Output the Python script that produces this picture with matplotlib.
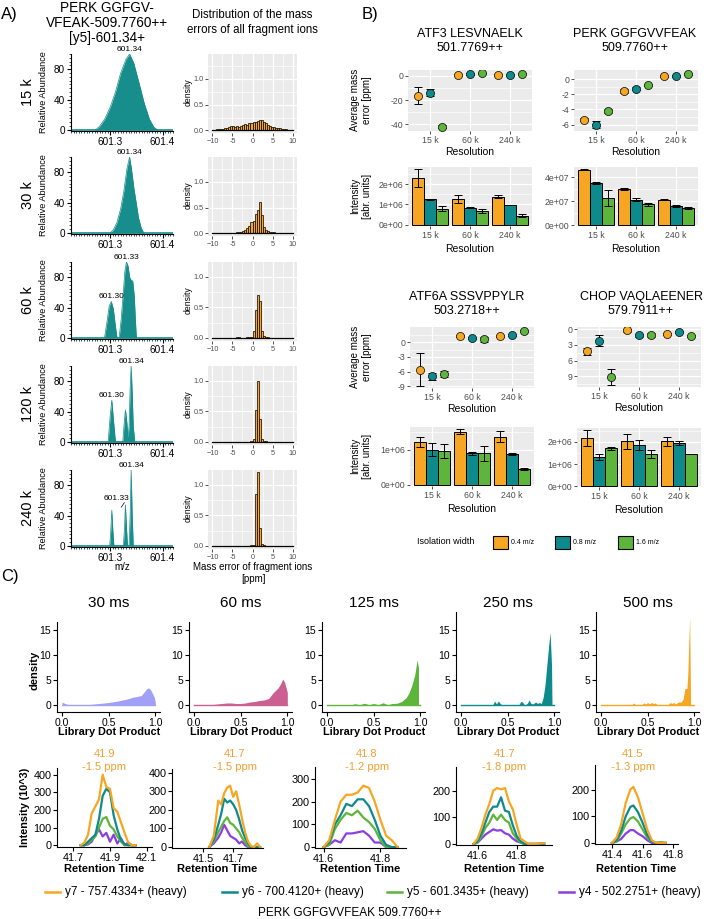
import numpy as np
import matplotlib
matplotlib.use("Agg")
import matplotlib.pyplot as plt
from matplotlib.patches import Rectangle
from matplotlib.ticker import MultipleLocator, FixedLocator

plt.rcParams['font.family'] = ['Liberation Sans', 'DejaVu Sans']
plt.rcParams['axes.linewidth'] = 0.8

# ======================= DATA =======================
resolutions = ['15 k', '30 k', '60 k', '120 k', '240 k']

# Panel A: spectra of [y5]-601.34+ (m/z, relative abundance)
spec_15k_mz = [601.272, 601.28, 601.29, 601.30, 601.31, 601.32, 601.33, 601.337, 601.345, 601.355, 601.365, 601.375, 601.383, 601.390]
spec_15k_int = [0, 5, 15, 30, 50, 75, 93, 100, 88, 62, 35, 14, 4, 0]
spec_30k_mz = [601.300, 601.306, 601.313, 601.320, 601.326, 601.332, 601.337, 601.341, 601.345, 601.350, 601.354, 601.359, 601.364]
spec_30k_int = [0, 4, 14, 32, 55, 85, 100, 82, 60, 38, 20, 7, 0]
spec_60k_mz = [601.289, 601.294, 601.298, 601.302, 601.306, 601.310, 601.313, 601.317, 601.321, 601.325, 601.328, 601.331, 601.334, 601.337, 601.340, 601.343, 601.346, 601.348, 601.350]
spec_60k_int = [0, 22, 42, 48, 38, 15, 0, 0, 25, 60, 88, 100, 95, 80, 76, 75, 55, 25, 0]
spec_120k_mz = [601.296, 601.300, 601.303, 601.306, 601.310, 601.324, 601.327, 601.329, 601.331, 601.334, 601.336, 601.338, 601.340, 601.342, 601.344, 601.347]
spec_120k_int = [0, 35, 55, 30, 0, 0, 28, 42, 32, 6, 20, 70, 100, 65, 20, 0]
spec_240k_mz = [601.299, 601.301, 601.303, 601.305, 601.307, 601.325, 601.327, 601.329, 601.331, 601.333, 601.336, 601.338, 601.340, 601.342, 601.344]
spec_240k_int = [0, 20, 47, 20, 0, 0, 20, 54, 25, 0, 0, 40, 100, 40, 0]

# peak labels: (m/z, abundance, text)
spec_labels = [
    [(601.337, 100, '601.34')],
    [(601.337, 100, '601.34')],
    [(601.302, 48, '601.30'), (601.331, 100, '601.33')],
    [(601.303, 55, '601.30'), (601.340, 100, '601.34')],
    [(601.340, 100, '601.34')],
]

# Panel A: histograms of fragment mass errors (0.5 ppm bins from -10 to 10)
hist_bin_edges = [-10 + 0.5 * k for k in range(41)]
hist_15k = [0.01, 0.01, 0.02, 0.02, 0.03, 0.03, 0.04, 0.05, 0.07, 0.08,
            0.09, 0.07, 0.08, 0.07, 0.09, 0.10, 0.12, 0.11, 0.14, 0.15,
            0.16, 0.17, 0.19, 0.20, 0.21, 0.17, 0.14, 0.11, 0.08, 0.07,
            0.06, 0.05, 0.04, 0.04, 0.03, 0.02, 0.02, 0.01, 0.01, 0.01]
hist_30k = [0.005, 0.005, 0.005, 0.005, 0.005, 0.01, 0.005, 0.01, 0.01, 0.01,
            0.01, 0.01, 0.02, 0.02, 0.03, 0.04, 0.06, 0.10, 0.14, 0.22,
            0.25, 0.38, 0.45, 0.60, 0.35, 0.12, 0.07, 0.04, 0.03, 0.02,
            0.02, 0.01, 0.01, 0.01, 0.005, 0.005, 0.005, 0.005, 0.0, 0.0]
hist_60k = [0.0, 0.0, 0.0, 0.0, 0.0, 0.005, 0.0, 0.005, 0.005, 0.005,
            0.005, 0.005, 0.01, 0.01, 0.005, 0.005, 0.005, 0.01, 0.01, 0.02,
            0.12, 0.45, 0.70, 0.60, 0.12, 0.03, 0.02, 0.01, 0.005, 0.005,
            0.005, 0.005, 0.0, 0.0, 0.0, 0.0, 0.0, 0.0, 0.0, 0.0]
hist_120k = [0.0, 0.0, 0.0, 0.0, 0.0, 0.0, 0.0, 0.0, 0.0, 0.0,
             0.0, 0.0, 0.0, 0.0, 0.0, 0.0, 0.005, 0.005, 0.005, 0.01,
             0.05, 0.52, 1.00, 0.38, 0.05, 0.02, 0.01, 0.005, 0.005, 0.0,
             0.0, 0.0, 0.0, 0.0, 0.0, 0.0, 0.0, 0.0, 0.0, 0.0]
hist_240k = [0.0, 0.0, 0.0, 0.0, 0.0, 0.0, 0.0, 0.0, 0.0, 0.0,
             0.0, 0.0, 0.0, 0.0, 0.005, 0.0, 0.005, 0.0, 0.005, 0.01,
             0.02, 0.85, 1.20, 0.30, 0.03, 0.01, 0.005, 0.0, 0.0, 0.0,
             0.005, 0.0, 0.0, 0.0, 0.0, 0.0, 0.0, 0.0, 0.0, 0.0]

# Panel B
res_cats = ['15 k', '60 k', '240 k']
iso_widths = ['0.4 m/z', '0.8 m/z', '1.6 m/z']
peptides = ['ATF3 LESVNAELK\n501.7769++', 'PERK GGFGVVFEAK\n509.7760++',
            'ATF6A SSSVPPYLR\n503.2718++', 'CHOP VAQLAEENER\n579.7911++']
# rows: isolation width 0.4 / 0.8 / 1.6 ; columns: 15 k / 60 k / 240 k
atf3_err = [[-16.4, 0.5, 0.5], [-14.0, 1.5, 0.5], [-41.9, 2.0, 1.8]]
atf3_err_sd = [[7.0, 0.6, 0.6], [3.0, 0.6, 0.6], [1.2, 0.6, 0.6]]
atf3_int = [[2.30e6, 1.28e6, 1.38e6], [1.24e6, 0.84e6, 0.96e6], [0.79e6, 0.67e6, 0.43e6]]
atf3_int_sd = [[0.46e6, 0.20e6, 0.09e6], [0.02e6, 0.01e6, 0.01e6], [0.12e6, 0.08e6, 0.08e6]]

perk_err = [[-5.35, -1.6, 0.45], [-6.0, -1.25, 0.45], [-4.2, -0.8, 0.65]]
perk_err_sd = [[0.2, 0.25, 0.15], [0.45, 0.15, 0.12], [0.25, 0.15, 0.15]]
perk_int = [[4.64e7, 3.05e7, 2.14e7], [3.50e7, 2.14e7, 1.58e7], [2.28e7, 1.75e7, 1.42e7]]
perk_int_sd = [[0.04e7, 0.10e7, 0.03e7], [0.08e7, 0.12e7, 0.08e7], [0.68e7, 0.13e7, 0.07e7]]

atf6a_err = [[-5.6, 1.2, 1.35], [-6.95, 0.9, 1.4], [-6.5, 0.55, 2.25]]
atf6a_err_sd = [[3.4, 0.2, 0.2], [0.7, 0.2, 0.2], [0.7, 0.5, 0.15]]
atf6a_int = [[1.21e6, 1.51e6, 1.37e6], [1.00e6, 0.89e6, 0.87e6], [0.96e6, 0.89e6, 0.45e6]]
atf6a_int_sd = [[0.14e6, 0.07e6, 0.15e6], [0.19e6, 0.05e6, 0.02e6], [0.19e6, 0.20e6, 0.02e6]]

chop_err = [[4.2, 0.25, 0.85], [2.2, 1.15, 0.6], [9.1, 1.05, 1.3]]
chop_err_sd = [[0.65, 0.3, 0.2], [1.0, 0.3, 0.15], [1.45, 0.4, 0.15]]
chop_int = [[2.18e6, 2.03e6, 2.03e6], [1.32e6, 1.85e6, 1.95e6], [1.71e6, 1.46e6, 1.47e6]]
chop_int_sd = [[0.35e6, 0.33e6, 0.20e6], [0.15e6, 0.22e6, 0.10e6], [0.08e6, 0.16e6, 0.01e6]]

# Panel C: library dot product densities
fill_times = ['30 ms', '60 ms', '125 ms', '250 ms', '500 ms']
dens_30_x = [0.0, 0.02, 0.05, 0.1, 0.2, 0.3, 0.4, 0.5, 0.6, 0.7, 0.75, 0.8, 0.85, 0.88, 0.91, 0.93, 0.95, 0.97, 0.99, 1.0]
dens_30_y = [0.6, 0.4, 0.15, 0.05, 0.05, 0.1, 0.3, 0.5, 0.8, 1.2, 1.5, 1.7, 1.9, 2.6, 3.3, 3.4, 3.0, 2.3, 1.5, 0.5]
dens_60_x = [0.0, 0.1, 0.2, 0.3, 0.35, 0.4, 0.45, 0.5, 0.55, 0.6, 0.65, 0.7, 0.75, 0.8, 0.85, 0.9, 0.93, 0.95, 0.97, 1.0]
dens_60_y = [0.1, 0.1, 0.1, 0.3, 0.4, 0.4, 0.3, 0.3, 0.4, 0.6, 0.7, 0.9, 1.0, 1.3, 2.5, 3.4, 4.3, 5.2, 4.6, 2.5]
dens_125_x = [0.0, 0.25, 0.3, 0.35, 0.4, 0.45, 0.5, 0.55, 0.6, 0.65, 0.7, 0.75, 0.8, 0.85, 0.88, 0.91, 0.94, 0.965, 0.98]
dens_125_y = [0.0, 0.0, 0.25, 0.05, 0.35, 0.05, 0.3, 0.05, 0.45, 0.05, 0.3, 0.35, 0.7, 1.5, 2.5, 4.0, 6.0, 9.0, 7.5]
dens_250_x = [0.0, 0.34, 0.36, 0.38, 0.40, 0.42, 0.44, 0.47, 0.62, 0.64, 0.66, 0.68, 0.71, 0.73, 0.75, 0.77, 0.80, 0.82, 0.84, 0.86, 0.88, 0.90, 0.92, 0.94, 0.955, 0.97, 0.975]
dens_250_y = [0.0, 0.0, 0.8, 0.2, 0.8, 0.3, 0.0, 0.0, 0.0, 0.7, 0.6, 0.0, 0.3, 1.0, 0.3, 0.2, 0.6, 0.3, 0.5, 0.3, 1.5, 4.0, 8.0, 12.0, 14.5, 8.0, 0.0]
dens_500_x = [0.0, 0.33, 0.35, 0.37, 0.44, 0.46, 0.48, 0.50, 0.52, 0.54, 0.56, 0.58, 0.60, 0.63, 0.72, 0.74, 0.76, 0.78, 0.80, 0.83, 0.86, 0.88, 0.90, 0.92, 0.93, 0.94, 0.95, 0.96]
dens_500_y = [0.0, 0.0, 0.4, 0.0, 0.1, 0.4, 0.2, 0.5, 0.2, 0.5, 0.3, 0.4, 0.1, 0.0, 0.1, 0.5, 0.3, 0.5, 0.2, 0.6, 0.6, 1.2, 3.3, 3.3, 6.0, 12.0, 17.5, 0.0]

# Panel C: chromatograms (retention time, intensity 10^3)
transitions = ['y7 - 757.4334+ (heavy)', 'y6 - 700.4120+ (heavy)',
               'y5 - 601.3435+ (heavy)', 'y4 - 502.2751+ (heavy)']
rt_30 = [41.74, 41.76, 41.78, 41.80, 41.82, 41.84, 41.86, 41.88, 41.90, 41.92, 41.94, 41.96, 41.98, 42.00, 42.02, 42.04]
y7_30 = [0, 15, 60, 180, 220, 260, 400, 330, 320, 210, 190, 130, 70, 15, 0, 0]
y6_30 = [0, 0, 20, 40, 60, 150, 280, 320, 300, 170, 90, 30, 5, 0, 0, 0]
y5_30 = [0, 0, 10, 30, 50, 100, 150, 160, 110, 90, 50, 20, 0, 0, 0, 0]
y4_30 = [0, 0, 5, 20, 60, 90, 50, 70, 20, 60, 10, 40, 0, 15, 0, 0]

rt_60 = [41.54, 41.57, 41.60, 41.62, 41.64, 41.66, 41.68, 41.70, 41.72, 41.74, 41.76, 41.78, 41.80, 41.82, 41.84, 41.86, 41.88]
y7_60 = [0, 60, 250, 230, 290, 320, 330, 270, 300, 230, 150, 80, 30, 5, 0, 20, 0]
y6_60 = [0, 40, 120, 180, 260, 240, 250, 230, 200, 150, 90, 50, 20, 0, 0, 0, 0]
y5_60 = [0, 30, 80, 110, 140, 160, 130, 120, 100, 80, 50, 25, 5, 0, 0, 0, 0]
y4_60 = [0, 20, 50, 80, 120, 90, 60, 50, 40, 20, 30, 10, 0, 0, 0, 0, 0]

rt_125 = [41.60, 41.62, 41.64, 41.66, 41.68, 41.70, 41.72, 41.74, 41.76, 41.78, 41.80, 41.82, 41.84, 41.86]
y7_125 = [0, 30, 120, 200, 230, 230, 240, 270, 260, 200, 120, 50, 30, 0]
y6_125 = [0, 20, 100, 140, 190, 180, 210, 210, 180, 120, 50, 10, 0, 0]
y5_125 = [0, 10, 80, 120, 150, 140, 160, 130, 110, 80, 30, 0, 0, 0]
y4_125 = [0, 10, 30, 20, 60, 60, 65, 70, 50, 20, 20, 0, 0, 0]

rt_250 = [41.58, 41.60, 41.62, 41.64, 41.66, 41.68, 41.70, 41.72, 41.74, 41.76, 41.78, 41.80, 41.82, 41.84, 41.86, 41.90, 41.94]
y7_250 = [0, 20, 60, 110, 150, 200, 210, 205, 210, 160, 130, 70, 20, 10, 0, 0, 3]
y6_250 = [0, 10, 40, 80, 120, 140, 140, 175, 125, 120, 70, 30, 10, 0, 0, 0, 0]
y5_250 = [0, 5, 30, 60, 80, 110, 90, 110, 90, 80, 40, 20, 5, 0, 0, 0, 0]
y4_250 = [0, 5, 20, 35, 45, 55, 50, 52, 40, 35, 20, 10, 5, 0, 0, 0, 3]

rt_500 = [41.40, 41.43, 41.46, 41.49, 41.52, 41.54, 41.57, 41.60, 41.63, 41.66, 41.69, 41.72, 41.75]
y7_500 = [0, 20, 70, 150, 200, 210, 170, 110, 50, 10, 0, 0, 0]
y6_500 = [0, 10, 45, 100, 135, 140, 115, 75, 30, 5, 0, 0, 0]
y5_500 = [0, 5, 35, 70, 92, 97, 80, 50, 20, 5, 0, 3, 0]
y4_500 = [0, 5, 15, 35, 48, 48, 35, 25, 10, 0, 0, 0, 0]

apex_rt = ['41.9', '41.7', '41.8', '41.7', '41.5']
apex_ppm = ['-1.5 ppm', '-1.5 ppm', '-1.2 ppm', '-1.8 ppm', '-1.3 ppm']

# ======================= STYLE =======================
W, H = 709, 919
fig = plt.figure(figsize=(W / 100, H / 100), dpi=100)

ORANGE = '#F6A623'
TEAL = '#0F8A8C'
GREEN = '#5DB53C'
PURPLE = '#8B3FE0'
SPEC = '#178E8B'
ANNOT = '#F0A032'
iso_colors = [ORANGE, TEAL, GREEN]
dens_colors = ['#A0A0F8', '#CC5F92', GREEN, TEAL, ORANGE]
trans_colors = [ORANGE, TEAL, GREEN, PURPLE]


def pax(x0, y0, x1, y1):
    return fig.add_axes([x0 / W, 1 - y1 / H, (x1 - x0) / W, (y1 - y0) / H])


def ggstyle(ax, fs=5.5):
    ax.set_facecolor('#EBEBEB')
    for s in ax.spines.values():
        s.set_visible(False)
    ax.grid(True, which='major', color='white', lw=0.9)
    ax.grid(True, which='minor', color='white', lw=0.45)
    ax.set_axisbelow(True)
    ax.tick_params(which='major', length=2.2, width=0.6, color='#333333',
                   labelsize=fs, labelcolor='#4D4D4D', pad=1.2)
    ax.tick_params(which='minor', length=0)


def classic(ax, fs=7.5):
    ax.spines['top'].set_visible(False)
    ax.spines['right'].set_visible(False)
    ax.tick_params(which='major', length=3, width=0.8, labelsize=fs, pad=1.5)


# ======================= PANEL A =======================
spec_mz = [spec_15k_mz, spec_30k_mz, spec_60k_mz, spec_120k_mz, spec_240k_mz]
spec_int = [spec_15k_int, spec_30k_int, spec_60k_int, spec_120k_int, spec_240k_int]
hists = [hist_15k, hist_30k, hist_60k, hist_120k, hist_240k]
row_tops = [54, 157, 262, 366, 470]
hist_ytop = [1.48, 1.48, 1.24, 1.24, 1.24]
edges = np.array(hist_bin_edges)
centers = (edges[:-1] + edges[1:]) / 2

for i in range(5):
    top = row_tops[i]
    ax = pax(71, top, 173, top + 77)
    ax.fill_between(spec_mz[i], spec_int[i], 0, color=SPEC, lw=0)
    ax.plot(spec_mz[i], spec_int[i], color=SPEC, lw=0.5)
    ax.axhline(0, color=SPEC, lw=1.2)
    ax.set_xlim(601.225, 601.42)
    ax.set_ylim(-1.5, 100)
    classic(ax, 7.2)
    ax.set_xticks([601.3, 601.4])
    ax.set_xticklabels(['601.3', '601.4'])
    ax.xaxis.set_minor_locator(MultipleLocator(0.005))
    ax.set_yticks([0, 40, 80])
    ax.yaxis.set_minor_locator(MultipleLocator(5))
    ax.tick_params(which='minor', length=1.6, width=0.5)
    for (mz, ab, lab) in spec_labels[i]:
        ax.text(mz, ab + 1.5, lab, ha='center', va='bottom', fontsize=6, clip_on=False)
    if i == 4:
        ax.text(601.312, 58, '601.33', ha='center', va='bottom', fontsize=6)
        ax.plot([601.321, 601.327], [51, 57], color='black', lw=0.5)

    hx = pax(208, top, 297, top + 79)
    ggstyle(hx, 5.2)
    hx.bar(centers, hists[i], width=0.5, color=ORANGE, edgecolor='black', lw=0.5, zorder=3)
    hx.plot([-10, 10], [0, 0], color='black', lw=0.9, zorder=4)
    hx.set_xlim(-11.1, 11.1)
    hx.set_ylim(-0.05, hist_ytop[i])
    hx.set_xticks([-10, -5, 0, 5, 10])
    hx.set_xticklabels(['\u221210', '-5', '0', '5', '10'])
    hx.xaxis.set_minor_locator(FixedLocator([-7.5, -2.5, 2.5, 7.5]))
    hx.set_yticks([0, 0.5, 1.0])
    hx.set_yticklabels(['0.0', '0.5', '1.0'])
    hx.yaxis.set_minor_locator(FixedLocator([0.25, 0.75, 1.25]))

# ======================= PANEL B =======================
b_err = [atf3_err, perk_err, atf6a_err, chop_err]
b_err_sd = [atf3_err_sd, perk_err_sd, atf6a_err_sd, chop_err_sd]
b_int = [atf3_int, perk_int, atf6a_int, chop_int]
b_int_sd = [atf3_int_sd, perk_int_sd, atf6a_int_sd, chop_int_sd]
err_boxes = [(408, 70, 532, 131), (574, 70, 698, 131), (410, 327, 534, 388), (577, 327, 701, 387)]
int_boxes = [(408, 167, 532, 226), (574, 167, 698, 226), (410, 427, 534, 486), (577, 428, 701, 487)]
err_ylims = [(-45.5, 4.7), (-6.85, 1.2), (-9.35, 3.1), (11.0, -0.4)]
err_yticks = [[0, -20, -40], [0, -2, -4, -6], [0, -3, -6, -9], [0, 3, 6, 9]]
err_ylabels = [['0', '-20', '-40'], ['0', '-2', '-4', '-6'], ['0', '-3', '-6', '-9'], ['0', '3', '6', '9']]
err_minor = [[-10, -30], [-1, -3, -5], [1.5, -1.5, -4.5, -7.5], [1.5, 4.5, 7.5, 10.5]]
int_ylims = [(-0.07e6, 2.84e6), (-0.06e7, 4.86e7), (-0.03e6, 1.64e6), (-0.03e6, 2.63e6)]
int_yticks = [[0, 1e6, 2e6], [0, 2e7, 4e7], [0, 1e6], [0, 1e6, 2e6]]
int_ylabels = [['0e+00', '1e+06', '2e+06'], ['0e+00', '2e+07', '4e+07'], ['0e+00', '1e+06'], ['0e+00', '1e+06', '2e+06']]
int_minor = [[0.5e6, 1.5e6, 2.5e6], [1e7, 3e7], [0.5e6, 1.5e6], [0.5e6, 1.5e6, 2.5e6]]
dodge = [-0.3, 0.0, 0.3]
cat_pos = np.arange(1, 4)

for p in range(4):
    ax = pax(*err_boxes[p])
    ggstyle(ax, 6.3)
    for j in range(3):
        xs = cat_pos + dodge[j]
        ax.errorbar(xs, b_err[p][j], yerr=b_err_sd[p][j], fmt='none', ecolor='black',
                    elinewidth=0.7, capsize=3.2, capthick=0.7, zorder=3)
        ax.scatter(xs, b_err[p][j], s=34, c=iso_colors[j], edgecolors='black',
                   linewidths=0.5, zorder=4)
    ax.set_xlim(0.45, 3.55)
    ax.set_ylim(*err_ylims[p])
    ax.set_xticks(cat_pos)
    ax.set_xticklabels(res_cats)
    ax.set_yticks(err_yticks[p])
    ax.set_yticklabels(err_ylabels[p])
    ax.yaxis.set_minor_locator(FixedLocator(err_minor[p]))

    bx = pax(*int_boxes[p])
    ggstyle(bx, 6.3)
    for j in range(3):
        xs = cat_pos + dodge[j]
        bx.bar(xs, b_int[p][j], width=0.3, color=iso_colors[j], edgecolor='black', lw=0.7, zorder=3)
        bx.errorbar(xs, b_int[p][j], yerr=b_int_sd[p][j], fmt='none', ecolor='black',
                    elinewidth=0.7, capsize=3.0, capthick=0.7, zorder=4)
    bx.set_xlim(0.45, 3.55)
    bx.set_ylim(*int_ylims[p])
    bx.set_xticks(cat_pos)
    bx.set_xticklabels(res_cats)
    bx.set_yticks(int_yticks[p])
    bx.set_yticklabels(int_ylabels[p])
    bx.yaxis.set_minor_locator(FixedLocator(int_minor[p]))

# ======================= PANEL C =======================
dens_x = [dens_30_x, dens_60_x, dens_125_x, dens_250_x, dens_500_x]
dens_y = [dens_30_y, dens_60_y, dens_125_y, dens_250_y, dens_500_y]
dens_zero_px = [62, 194, 327, 461, 601]
dens_top = [622, 622, 622, 612, 612]
for k in range(5):
    x0 = dens_zero_px[k] - 4.7
    ax = pax(x0, dens_top[k], x0 + 102.7, 712)
    ax.fill_between(dens_x[k], dens_y[k], 0, color=dens_colors[k], lw=0)
    ax.plot([0, 1], [0, 0], color=dens_colors[k], lw=1.0)
    ax.set_xlim(-0.05, 1.05)
    ax.set_ylim(-1.4, (705 - dens_top[k]) / 5.0)
    classic(ax, 7.5)
    ax.set_xticks([0.0, 0.5, 1.0])
    ax.set_xticklabels(['0.0', '0.5', '1.0'])
    ax.set_yticks([0, 5, 10, 15])

chrom_rt = [rt_30, rt_60, rt_125, rt_250, rt_500]
chrom_series = [[y7_30, y6_30, y5_30, y4_30], [y7_60, y6_60, y5_60, y4_60],
                [y7_125, y6_125, y5_125, y4_125], [y7_250, y6_250, y5_250, y4_250],
                [y7_500, y6_500, y5_500, y4_500]]
chrom_boxes = [(57, 768, 152, 847), (172, 769, 263, 848), (315, 767, 406, 848),
               (456, 767, 552, 845), (595, 765, 678, 844)]
chrom_xlim = [(41.61, 42.13), (41.29, 41.90), (41.57, 41.89), (41.49, 41.98), (41.29, 41.83)]
chrom_ylim = [(-10, 438), (-5, 420), (-4, 352), (-4, 289), (-4, 292)]
chrom_xticks = [[41.7, 41.9, 42.1], [41.5, 41.7], [41.6, 41.8], [41.6, 41.8], [41.4, 41.6, 41.8]]
chrom_yticks = [[0, 100, 200, 300, 400], [0, 100, 200, 300, 400], [0, 100, 200, 300], [0, 100, 200], [0, 100, 200]]
for k in range(5):
    ax = pax(*chrom_boxes[k])
    for s in range(3, -1, -1):
        ax.plot(chrom_rt[k], chrom_series[k][s], color=trans_colors[s], lw=1.6)
    ax.set_xlim(*chrom_xlim[k])
    ax.set_ylim(*chrom_ylim[k])
    classic(ax, 7.8)
    ax.tick_params(axis='y', pad=1.0)
    ax.set_xticks(chrom_xticks[k])
    ax.set_xticklabels(['%.1f' % v for v in chrom_xticks[k]])
    ax.set_yticks(chrom_yticks[k])

# ======================= OVERLAY TEXT =======================
ov = fig.add_axes([0, 0, 1, 1])
ov.set_xlim(0, W)
ov.set_ylim(H, 0)
ov.axis('off')

# Panel A
ov.text(1, 14, 'A)', fontsize=12, va='center', ha='left')
ov.text(107, 23, 'PERK GGFGV-\nVFEAK-509.7760++\n[y5]-601.34+', fontsize=9.8,
        ha='center', va='center', linespacing=1.05)
ov.text(252, 22.5, 'Distribution of the mass\nerrors of all fragment ions', fontsize=8.3,
        ha='center', va='center', linespacing=1.25)
for i in range(5):
    cy = row_tops[i] + 38
    ov.text(28, cy, resolutions[i], fontsize=10.5, rotation=90, ha='center', va='center')
    ov.text(43, cy, 'Relative Abundance', fontsize=6.6, rotation=90, ha='center', va='center')
    ov.text(188, cy, 'density', fontsize=6.2, rotation=90, ha='center', va='center')
ov.text(122, 567, 'm/z', fontsize=7, ha='center', va='center')
ov.text(253, 573, 'Mass error of fragment ions\n[ppm]', fontsize=7, ha='center', va='center',
        linespacing=1.25)

# Panel B
ov.text(362, 14, 'B)', fontsize=12, va='center', ha='left')
title_pos = [(470, 41), (635, 41), (467, 304), (641, 304)]
for p in range(4):
    ov.text(title_pos[p][0], title_pos[p][1], peptides[p], fontsize=9, ha='center',
            va='center', linespacing=1.3)
    eb = err_boxes[p]
    ib = int_boxes[p]
    ov.text((eb[0] + eb[2]) / 2, eb[3] + 21, 'Resolution', fontsize=7.5, ha='center', va='center')
    ov.text((ib[0] + ib[2]) / 2, ib[3] + 23, 'Resolution', fontsize=7.5, ha='center', va='center')
for yc in [100, 357]:
    ov.text(361, yc, 'Average mass\nerror [ppm]', fontsize=7, rotation=90, ha='center',
            va='center', linespacing=1.2)
for yc in [196, 456]:
    ov.text(361, yc, 'Intensity\n[abr. units]', fontsize=7, rotation=90, ha='center',
            va='center', linespacing=1.2)
ov.text(417, 542, 'Isolation width', fontsize=6.5, ha='left', va='center')
leg_box_x = [493, 555, 618]
for j in range(3):
    ov.add_patch(Rectangle((leg_box_x[j], 536), 15, 13, facecolor=iso_colors[j],
                           edgecolor='black', lw=0.8))
    ov.text(leg_box_x[j] + 18, 542.5, iso_widths[j], fontsize=5, ha='left', va='center')

# Panel C
ov.text(1, 576, 'C)', fontsize=12, va='center', ha='left')
for k in range(5):
    x0 = dens_zero_px[k] - 4.7
    xc = x0 + 102.7 / 2
    ov.text(xc, 603, fill_times[k], fontsize=11, ha='center', va='center')
    ov.text(xc, 732, 'Library Dot Product', fontsize=7.8, fontweight='bold', ha='center', va='center')
    cb = chrom_boxes[k]
    cxc = (cb[0] + cb[2]) / 2
    ov.text(cxc, 869, 'Retention Time', fontsize=8, fontweight='bold', ha='center', va='center')
annot_x = [104, 235, 367, 504, 633]
for k in range(5):
    ov.text(annot_x[k], 754, apex_rt[k], fontsize=8, color=ANNOT, ha='center', va='center')
    ov.text(annot_x[k], 767, apex_ppm[k], fontsize=8, color=ANNOT, ha='center', va='center')
ov.text(35, 670, 'density', fontsize=8, fontweight='bold', rotation=90, ha='center', va='center')
ov.text(25, 807, 'Intensity (10^3)', fontsize=7.8, fontweight='bold', rotation=90, ha='center', va='center')

leg_line_x = [45, 222, 387, 559]
for s in range(4):
    ov.plot([leg_line_x[s], leg_line_x[s] + 15], [892, 892], color=trans_colors[s], lw=1.8)
    ov.text(leg_line_x[s] + 20, 892, transitions[s], fontsize=8.5, ha='left', va='center')
ov.text(350, 913, 'PERK GGFGVVFEAK 509.7760++', fontsize=8.5, ha='center', va='center')

fig.savefig('out.png', dpi=100)
